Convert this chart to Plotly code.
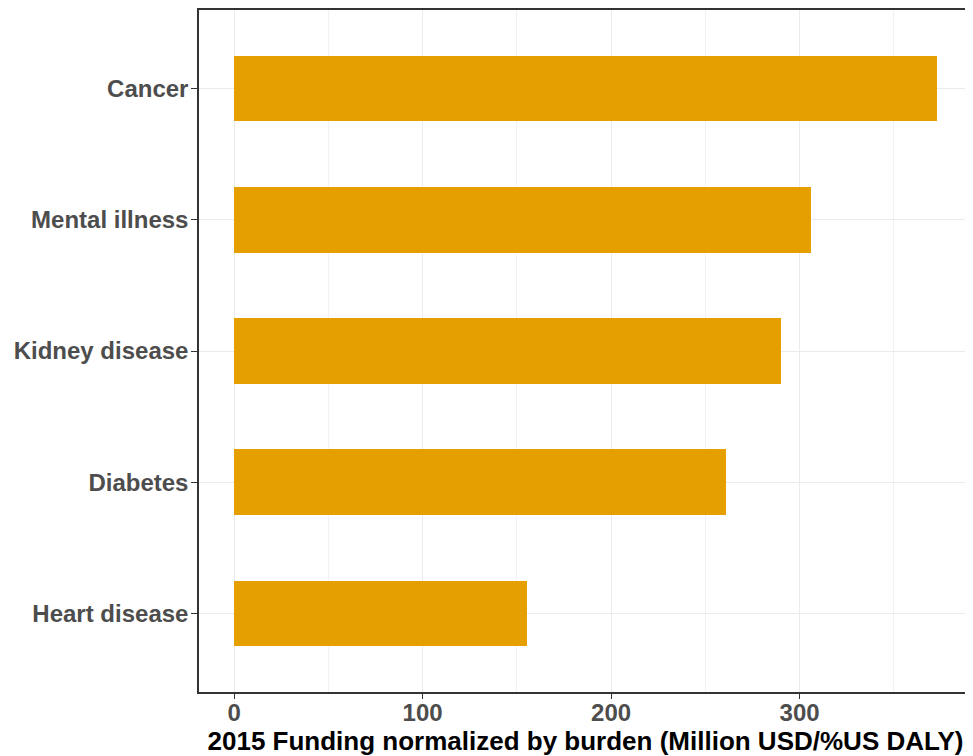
import plotly.graph_objects as go

categories = ["Heart disease", "Diabetes", "Kidney disease", "Mental illness", "Cancer"]
funding = [155.2, 260.9, 290.0, 306.1, 372.8]
x_ticks = [0, 100, 200, 300]
x_title = "2015 Funding normalized by burden (Million USD/%US DALY)"

fig = go.Figure()
fig.add_trace(go.Bar(
    x=funding, y=categories, orientation="h",
    marker=dict(color="#E69F00", line=dict(width=0)),
    width=0.5, showlegend=False,
))

xmax = max(funding)
pad = xmax * 0.05

fig.update_layout(
    width=973, height=756,
    margin=dict(l=191, r=9, t=0, b=72),
    plot_bgcolor="white", paper_bgcolor="white",
    bargap=0,
    xaxis=dict(
        range=[-pad, xmax + pad],
        tickvals=x_ticks,
        ticktext=[str(v) for v in x_ticks],
        showgrid=True, gridcolor="#ebebeb", gridwidth=1.2,
        minor=dict(showgrid=True, gridcolor="#f2f2f2", gridwidth=0.8, dtick=50, tick0=0),
        zeroline=False,
        showline=True, mirror=True, linecolor="#333333", linewidth=1.5,
        ticks="outside", ticklen=5, tickcolor="#333333", tickwidth=1.2,
        ticklabelstandoff=-7,
        tickfont=dict(family="Liberation Sans", size=24, color="#4d4d4d", weight="bold"),
        title=dict(text=x_title, standoff=2,
                   font=dict(family="Liberation Sans", size=26, color="black", weight="bold")),
    ),
    yaxis=dict(
        type="category",
        categoryorder="array", categoryarray=categories,
        range=[-0.6, len(categories) - 0.4],
        showgrid=True, gridcolor="#ebebeb", gridwidth=1.2,
        zeroline=False,
        showline=True, mirror=True, linecolor="#333333", linewidth=1.5,
        ticks="outside", ticklen=6, tickcolor="#333333", tickwidth=1.2,
        ticklabelstandoff=-2,
        tickfont=dict(family="Liberation Sans", size=24, color="#4d4d4d", weight="bold"),
    ),
)

fig.write_html("out.html")
